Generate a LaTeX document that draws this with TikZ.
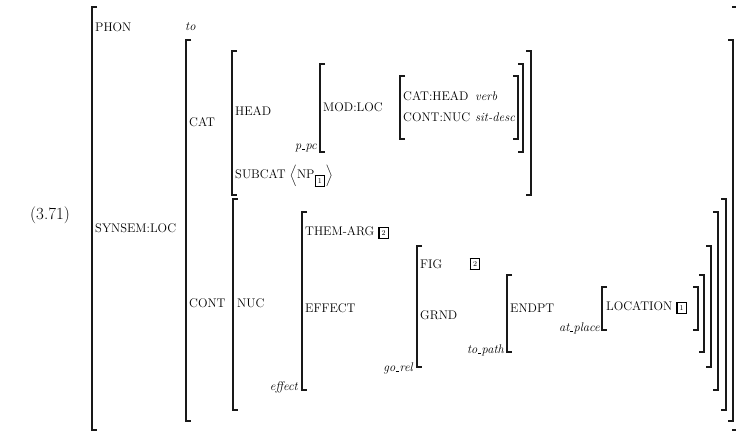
\documentclass[tikz,border=0pt]{standalone}
\usepackage{amsmath}
\usepackage{tikz}
\usetikzlibrary{positioning}
\newcommand{\avmfont}{\fontsize{12.5}{14}\selectfont}
\newcommand{\avmtag}[1]{{\setlength{\fboxsep}{1.7pt}\setlength{\fboxrule}{1.2pt}%
  \fbox{\makebox[4.8pt][c]{\rule[-0.6pt]{0pt}{6.2pt}\fontsize{7.5}{7.5}\selectfont #1}}}}
\newcommand{\lowbar}{\kern0.4pt\rule[-0.4pt]{3.6pt}{0.9pt}\kern0.2pt}
\tikzset{
  attr-label/.style={anchor=west, inner sep=0pt, font=\avmfont},
  value-label/.style={anchor=west, inner sep=0pt, font=\avmfont\itshape},
  type-label/.style={anchor=east, inner sep=0pt, font=\avmfont\itshape},
  tag-label/.style={inner sep=0pt, font=\avmfont},
  avm-bracket/.style={line width=1.1pt, draw=black!90}
}

\begin{document}
\begin{tikzpicture}[x=1pt, y=-1pt]
\useasboundingbox (0,0) rectangle (736,434);
% brackets: left x / right x / top / bottom
\foreach \l/\r/\t/\b in {%
  92/737/7/430, 186/733/40/421,%
  232/531/51/195, 320/523/64/152, 400/518/76/139,%
  233/726/199/410, 302/718/212/390, 417/711/246/367,%
  507/704/275/352, 602/698/287/330%
}{
  \draw[avm-bracket] (\l+5,\t) -| (\l,\b) -- (\l+5,\b);
  \draw[avm-bracket] (\r-5,\t) -| (\r,\b) -- (\r-5,\b);
}
\node[anchor=west, inner sep=0pt, font=\fontsize{17}{20}\selectfont] (exnum) at (30,215) {(3.71)};
% outer level
\node[attr-label] (phon) at (95,27) {PHON};
\node[value-label] (phonval) at (185,27) {to};
\node[attr-label] (synsem) at (95,228) {SYNSEM:LOC};
% CAT
\node[attr-label] (cat) at (189,122) {CAT};
\node[attr-label] (head) at (235,111) {HEAD};
\node[attr-label] (subcat) at (235,176) {SUBCAT $\Big\langle$NP$_{\avmtag{1}}\Big\rangle$};
\node[type-label] (ppc) at (317,148) {p\lowbar pc};
\node[attr-label] (modloc) at (323,107) {MOD:LOC};
\node[attr-label] (cathead) at (403,96) {CAT:HEAD};
\node[value-label] (verb) at (475,96) {verb};
\node[attr-label] (contnuc) at (403,117) {CONT:NUC};
\node[value-label] (sitdesc) at (475,117) {sit-desc};
% CONT
\node[attr-label] (cont) at (189,303) {CONT};
\node[attr-label] (nuc) at (237,303) {NUC};
\node[type-label] (efftype) at (298,387) {effect};
\node[attr-label] (themarg) at (305,233) {THEM-ARG \avmtag{2}};
\node[attr-label] (effect) at (305,308) {EFFECT};
\node[type-label] (gorel) at (413,368) {go\lowbar rel};
\node[attr-label] (fig) at (420,264) {FIG};
\node[tag-label] (figtag) at (475,264) {\avmtag{2}};
\node[attr-label] (grnd) at (420,315) {GRND};
\node[type-label] (topath) at (504,350) {to\lowbar path};
\node[attr-label] (endpt) at (510,308) {ENDPT};
\node[type-label] (atplace) at (600,328) {at\lowbar place};
\node[attr-label] (location) at (606,308) {LOCATION \avmtag{1}};
\end{tikzpicture}
\end{document}
